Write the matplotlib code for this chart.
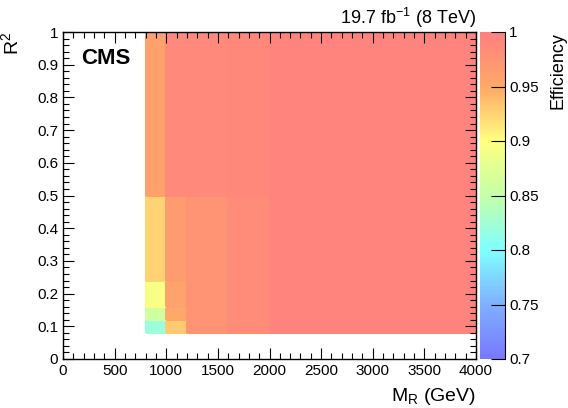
import numpy as np
import matplotlib
matplotlib.use("Agg")
import matplotlib.pyplot as plt
from matplotlib.colors import LinearSegmentedColormap, Normalize
from matplotlib.ticker import MultipleLocator

plt.rcParams['font.family'] = ['Liberation Sans', 'DejaVu Sans']

# Bin edges
mr_edges = [800, 1000, 1200, 1600, 2000, 4000]
r2_edges = [0.08, 0.12, 0.16, 0.24, 0.5, 1.0]

# Efficiency per cell: rows = R2 bins (bottom to top), cols = MR bins
eff_row0 = [0.820, 0.930, 0.975, 0.985, 0.995]
eff_row1 = [0.860, 0.950, 0.975, 0.985, 0.995]
eff_row2 = [0.895, 0.957, 0.975, 0.985, 0.995]
eff_row3 = [0.925, 0.964, 0.975, 0.985, 0.995]
eff_row4 = [0.958, 0.988, 0.988, 0.990, 0.995]

eff = np.array([eff_row0, eff_row1, eff_row2, eff_row3, eff_row4])

cmap = LinearSegmentedColormap.from_list("root_rainbow_alpha", [
    (0.0, '#7878ff'),
    (1/6, '#80b0ff'),
    (2/6, '#80ffff'),
    (3/6, '#c4ffa8'),
    (4/6, '#ffff80'),
    (5/6, '#ffa868'),
    (1.0, '#ff8080'),
])
norm = Normalize(vmin=0.7, vmax=1.0)

fig = plt.figure(figsize=(5.68, 4.08), dpi=100)
ax = fig.add_axes([63/568, 1 - 359/408, (476 - 63)/568, (359 - 32)/408])
cax = fig.add_axes([480/568, 1 - 359/408, (505 - 480)/568, (359 - 32)/408])

mesh = ax.pcolormesh(mr_edges, r2_edges, eff, cmap=cmap, norm=norm,
                     shading='flat', edgecolors='face', linewidth=0.3)
ax.set_xlim(0, 4000)
ax.set_ylim(0, 1)

ax.xaxis.set_major_locator(MultipleLocator(500))
ax.xaxis.set_minor_locator(MultipleLocator(100))
ax.yaxis.set_major_locator(MultipleLocator(0.1))
ax.yaxis.set_minor_locator(MultipleLocator(0.02))
ax.tick_params(which='both', direction='in', top=True, right=True,
               labelsize=11, width=0.8, color='black')
ax.tick_params(which='major', length=8)
ax.tick_params(which='minor', length=4)
ax.set_xticks(np.arange(0, 4001, 500))
ax.set_xticklabels([str(v) for v in range(0, 4001, 500)])
ax.set_yticks(np.round(np.arange(0, 1.01, 0.1), 1))
ax.set_yticklabels(['0'] + ['%.1f' % v for v in np.arange(0.1, 0.95, 0.1)] + ['1'])
for sp in ax.spines.values():
    sp.set_linewidth(1.0)

ax.set_xlabel(r'M$_{\mathregular{R}}$ (GeV)', fontsize=14, loc='right', labelpad=6)
ax.set_ylabel(r'R$^{\mathregular{2}}$', fontsize=14, loc='top', labelpad=10)

ax.text(0.045, 0.95, 'CMS', transform=ax.transAxes, fontsize=16,
        fontweight='bold', va='top', ha='left')
fig.text(476/568, 1 - 18/408, r'19.7 fb$^{\mathregular{-1}}$ (8 TeV)',
         fontsize=13, ha='right', va='center')

cb = fig.colorbar(mesh, cax=cax)
cb.outline.set_visible(False)
cax.spines['right'].set_visible(True)
cax.yaxis.set_major_locator(MultipleLocator(0.05))
cb.set_ticks([0.7, 0.75, 0.8, 0.85, 0.9, 0.95, 1.0])
cb.set_ticklabels(['0.7', '0.75', '0.8', '0.85', '0.9', '0.95', '1'])
cax.tick_params(direction='in', length=10, width=0.8, labelsize=11, pad=3)
cax.set_ylabel('Efficiency', fontsize=13, loc='top', labelpad=8)

fig.savefig('out.png', dpi=100)
